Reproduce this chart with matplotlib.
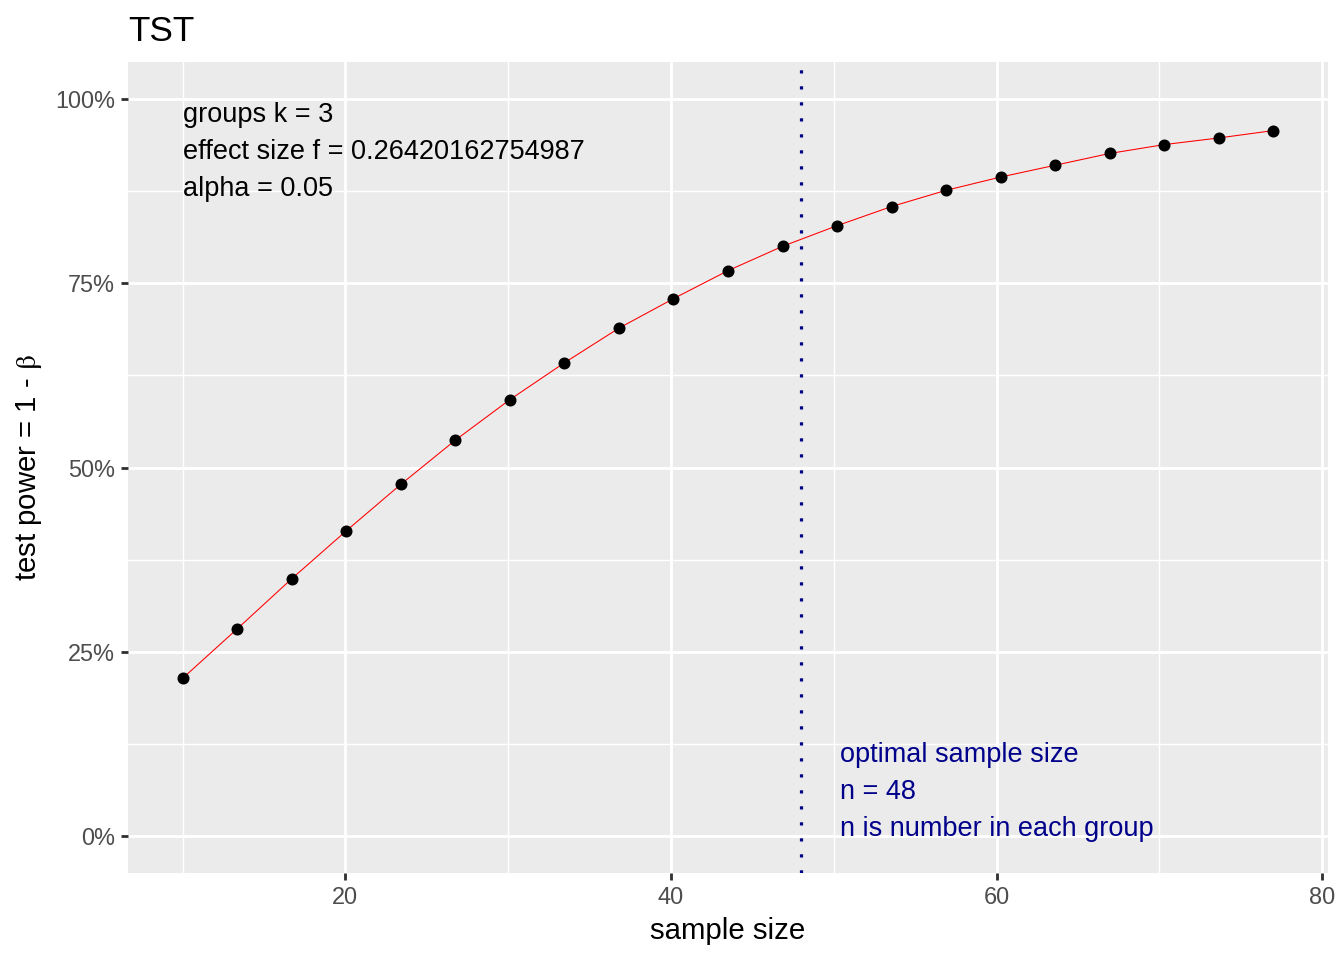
import matplotlib
matplotlib.use("Agg")
import matplotlib.pyplot as plt
from matplotlib.ticker import FixedLocator, FuncFormatter

plt.rcParams['font.family'] = ['Liberation Sans', 'DejaVu Sans']
plt.rcParams['mathtext.fontset'] = 'stix'

# ---- data ----
sample_size = [10, 13.35, 16.7, 20.05, 23.4, 26.75, 30.1, 33.45, 36.8, 40.15, 43.5,
               46.85, 50.2, 53.55, 56.9, 60.25, 63.6, 66.95, 70.3, 73.65, 77]
power = [0.214, 0.281, 0.349, 0.414, 0.477, 0.537, 0.592, 0.642, 0.689, 0.729, 0.767,
         0.800, 0.828, 0.854, 0.876, 0.894, 0.910, 0.926, 0.938, 0.947, 0.957]
optimal_n = 48
x_ticks = [20, 40, 60, 80]
x_minor = [10, 30, 50, 70]
y_ticks = [0, 0.25, 0.5, 0.75, 1.0]
y_minor = [0.125, 0.375, 0.625, 0.875]
info_lines = ["groups k = 3", "effect size f = 0.26420162754987", "alpha = 0.05"]
opt_lines = ["optimal sample size", "n = 48", "n is number in each group"]

# ---- figure ----
fig = plt.figure(figsize=(7, 5), dpi=192)
ax = fig.add_axes([128/1344, 1-873/960, 1200/1344, 811/960])
ax.set_facecolor('#EBEBEB')
for s in ax.spines.values():
    s.set_visible(False)

xr = 77 - 10
ax.set_xlim(10 - 0.05*xr, 77 + 0.05*xr)
ax.set_ylim(-0.05, 1.05)

ax.xaxis.set_major_locator(FixedLocator(x_ticks))
ax.xaxis.set_minor_locator(FixedLocator(x_minor))
ax.yaxis.set_major_locator(FixedLocator(y_ticks))
ax.yaxis.set_minor_locator(FixedLocator(y_minor))
ax.yaxis.set_major_formatter(FuncFormatter(lambda v, p: f"{int(round(v*100))}%"))

ax.grid(which='major', color='white', linewidth=1.07)
ax.grid(which='minor', color='white', linewidth=0.53)
ax.set_axisbelow(True)
ax.tick_params(which='major', length=2.75, width=1.07, color='#333333',
               labelsize=8.8, labelcolor='#4D4D4D', pad=2.2)
ax.tick_params(which='minor', length=0)

ax.plot(sample_size, power, color='red', linewidth=0.4, zorder=3)
ax.plot(sample_size, power, linestyle='none', marker='o', markersize=3.5,
        color='black', zorder=4)
ax.axvline(optimal_n, color='#00008B', linewidth=1.2, linestyle=(0, (1, 4)), zorder=2)

ax.text(10, 0.8685, "\n".join(info_lines), fontsize=10.2, color='black',
        ha='left', va='baseline', linespacing=1.55, zorder=5)
ax.text(50.37, 0.0, "\n".join(opt_lines), fontsize=10.2, color='#00008B',
        ha='left', va='baseline', linespacing=1.55, zorder=5)

ax.set_xlabel("sample size", fontsize=11, color='black', labelpad=3)
ax.set_ylabel(r"test power = 1 - $\mathrm{\beta}$", fontsize=11, color='black', labelpad=4)
fig.text(128/1344, 1-41/960, "TST", fontsize=13.2, color='black', ha='left', va='baseline')

fig.savefig("out.png", dpi=192, facecolor='white')
